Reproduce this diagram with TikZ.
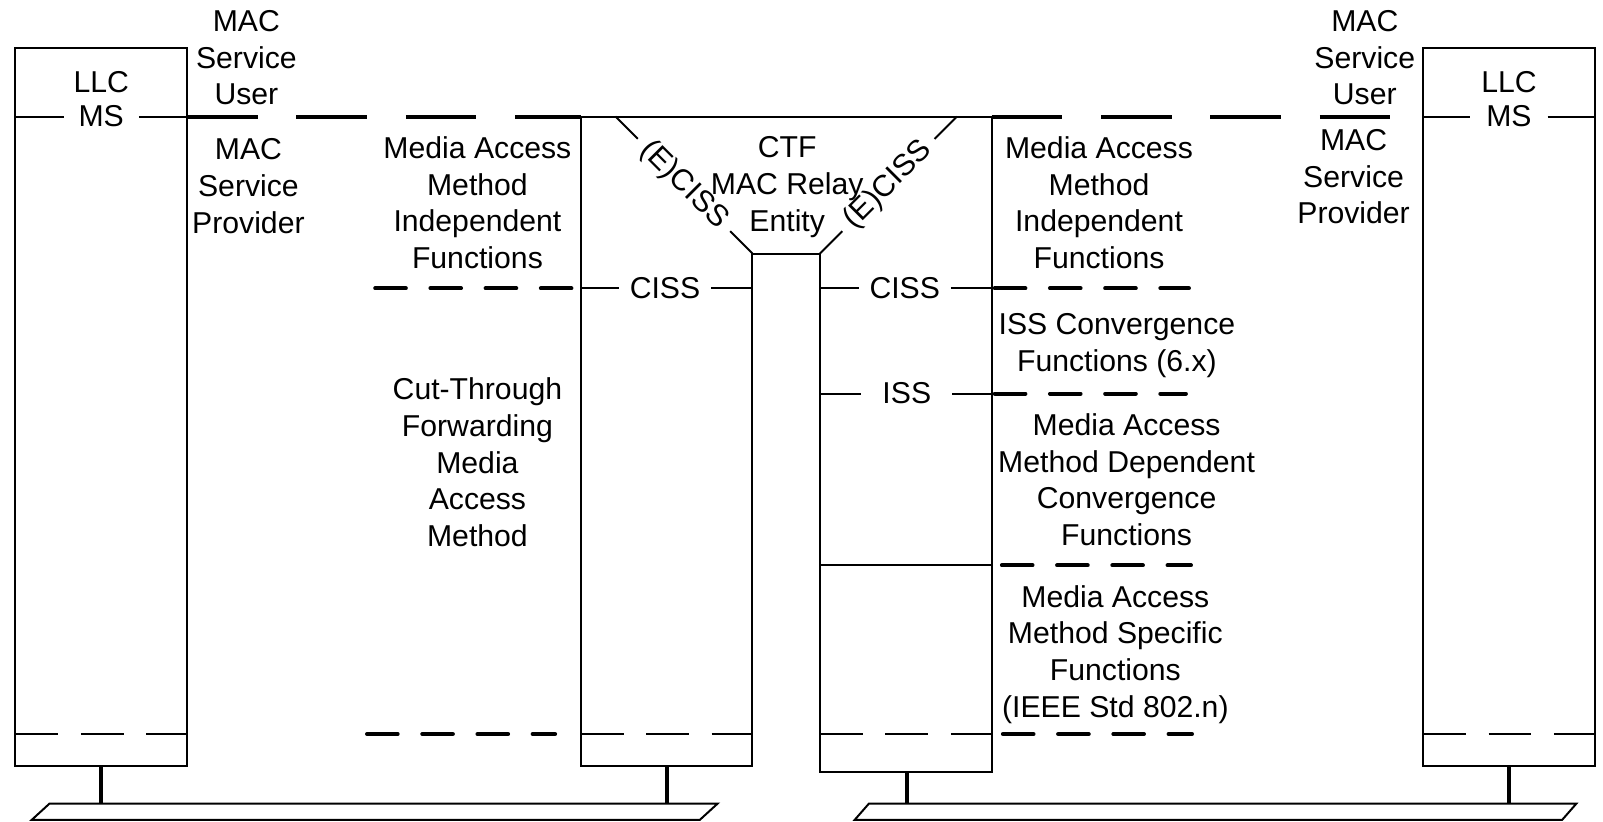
\documentclass[tikz,border=0pt]{standalone}
\usepackage{fontspec}
\setmainfont{Liberation Sans}

\begin{document}
\begin{tikzpicture}[x=1mm, y=-1mm,
        wall/.style={line width=0.55pt},
        mainsep/.style={line width=1.1pt, dash pattern=on 6.9mm off 3.8mm},
        subsep/.style={line width=1.1pt, line cap=round, dash pattern=on 3mm off 2.4mm},
        boxsep/.style={line width=0.55pt, dash pattern=on 4.2mm off 2.2mm},
        stem/.style={line width=1.1pt},
        txt/.style={font=\fontsize{8.4}{10.2}\selectfont, align=center, inner sep=0pt, anchor=north},
        tag/.style={font=\fontsize{8.4}{10.2}\selectfont, inner ysep=0pt, inner xsep=#1},
        tag/.default=1mm]

        \useasboundingbox (0,0) rectangle (156.8,80.4);

        % left station

        \draw [wall] (1.5,4.7) rectangle (18.3,74.9);
        \node [tag] (llcL) at (9.9,8.0) {LLC};
        \node [tag=1.4mm] (msL) at (9.9,11.4) {MS};
        \draw [wall] (1.5,11.4) -- (msL.west) (msL.east) -- (18.3,11.4);
        \draw [boxsep] (1.5,71.8) -- (18.3,71.8);

        \node [txt] (userL) at (24.1,0.95) {MAC\\Service\\User};
        \node [txt] (provL) at (24.3,13.5) {MAC\\Service\\Provider};

        % bridge

        \draw [wall] (56.8,11.4) -- (97.0,11.4) -- (97.0,75.5) -- (80.2,75.5) -- (80.2,24.8)
            -- (73.6,24.8) -- (73.6,74.9) -- (56.8,74.9) -- cycle;

        \node [tag=0.9mm, rotate=-45] (ecissL) at (66.9,18.1) {(E)CISS};
        \node [tag=0.9mm, rotate=45] (ecissR) at (86.9,18.1) {(E)CISS};
        \draw [wall] (60.2,11.4) -- (ecissL.west) (ecissL.east) -- (73.6,24.8);
        \draw [wall] (80.2,24.8) -- (ecissR.west) (ecissR.east) -- (93.6,11.4);

        \node [txt] (relay) at (77.0,13.3) {CTF\\MAC Relay\\Entity};

        \node [tag] (cissL) at (65.05,28.2) {CISS};
        \draw [wall] (56.8,28.2) -- (cissL.west) (cissL.east) -- (73.6,28.2);
        \node [tag] (cissR) at (88.5,28.2) {CISS};
        \draw [wall] (80.2,28.2) -- (cissR.west) (cissR.east) -- (97.0,28.2);
        \node [tag=2mm] (iss) at (88.7,38.5) {ISS};
        \draw [wall] (80.2,38.5) -- (iss.west) (iss.east) -- (97.0,38.5);
        \draw [wall] (80.2,55.3) -- (97.0,55.3);

        \draw [boxsep] (56.8,71.8) -- (73.6,71.8);
        \draw [boxsep] (80.2,71.8) -- (97.0,71.8);

        % layer boundaries

        \draw [mainsep] (18.3,11.4) -- (56.8,11.4);
        \draw [mainsep] (97.0,11.4) -- (136.2,11.4);

        \draw [subsep] (36.7,28.2) -- (56.0,28.2);
        \draw [subsep] (35.9,71.8) -- (54.3,71.8);
        \draw [subsep] (97.3,28.2) -- (116.3,28.2);
        \draw [subsep] (97.3,38.5) -- (116.0,38.5);
        \draw [subsep] (98.0,55.3) -- (116.5,55.3);
        \draw [subsep] (98.1,71.8) -- (116.6,71.8);

        \node [txt] (indepL) at (46.7,13.3) {Media Access\\Method\\Independent\\Functions};
        \node [txt] (cutfwd) at (46.7,36.9) {Cut-Through\\Forwarding\\Media\\Access\\Method};

        \node [txt] (indepR) at (107.5,13.3) {Media Access\\Method\\Independent\\Functions};
        \node [txt] (issconv) at (109.25,30.6) {ISS Convergence\\Functions (6.x)};
        \node [txt] (depconv) at (110.2,40.4) {Media Access\\Method Dependent\\Convergence\\Functions};
        \node [txt] (specific) at (109.1,57.2) {Media Access\\Method Specific\\Functions\\(IEEE Std 802.n)};

        % right station

        \node [txt] (userR) at (133.5,0.95) {MAC\\Service\\User};
        \node [txt] (provR) at (132.4,12.6) {MAC\\Service\\Provider};

        \draw [wall] (139.2,4.7) rectangle (156.0,74.9);
        \node [tag] (llcR) at (147.6,8.0) {LLC};
        \node [tag=1.5mm] (msR) at (147.6,11.4) {MS};
        \draw [wall] (139.2,11.4) -- (msR.west) (msR.east) -- (156.0,11.4);
        \draw [boxsep] (139.2,71.8) -- (156.0,71.8);

        % LANs

        \draw [stem] (9.9,74.9) -- (9.9,78.6);
        \draw [stem] (65.2,74.9) -- (65.2,78.6);
        \draw [stem] (88.7,75.5) -- (88.7,78.6);
        \draw [stem] (147.6,74.9) -- (147.6,78.6);

        \draw [wall] (4.85,78.6) -- (70.2,78.6) -- (68.45,80.2) -- (3.1,80.2) -- cycle;
        \draw [wall] (85.0,78.6) -- (154.2,78.6) -- (152.8,80.2) -- (83.6,80.2) -- cycle;

    \end{tikzpicture}
\end{document}
